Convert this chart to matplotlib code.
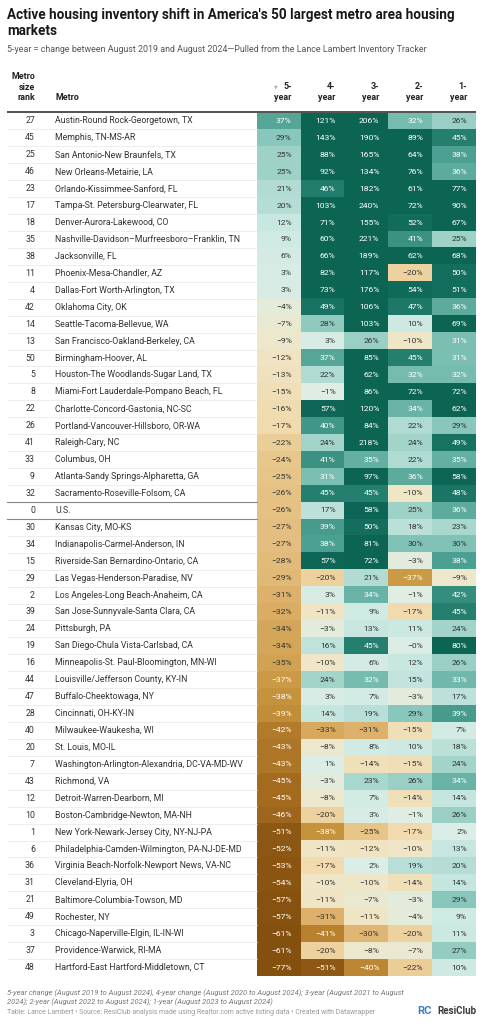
import matplotlib
matplotlib.use('Agg')
import matplotlib.pyplot as plt
import numpy as np
from matplotlib.colors import LinearSegmentedColormap, Normalize

plt.rcParams['font.family'] = ['Roboto', 'DejaVu Sans']

# 数据：排名、都市区、5/4/3/2/1年库存变化（%）
ranks = [27, 45, 25, 46, 23, 17, 18, 35, 38, 11, 4, 42, 14, 13, 50, 5, 8, 22, 26,
         41, 33, 9, 32, 0, 30, 34, 15, 29, 2, 39, 24, 19, 16, 44, 47, 28, 40, 20,
         7, 43, 12, 10, 1, 6, 36, 31, 21, 49, 3, 37, 48]
metros = [
    "Austin-Round Rock-Georgetown, TX", "Memphis, TN-MS-AR",
    "San Antonio-New Braunfels, TX", "New Orleans-Metairie, LA",
    "Orlando-Kissimmee-Sanford, FL", "Tampa-St. Petersburg-Clearwater, FL",
    "Denver-Aurora-Lakewood, CO", "Nashville-Davidson\u2013Murfreesboro\u2013Franklin, TN",
    "Jacksonville, FL", "Phoenix-Mesa-Chandler, AZ", "Dallas-Fort Worth-Arlington, TX",
    "Oklahoma City, OK", "Seattle-Tacoma-Bellevue, WA", "San Francisco-Oakland-Berkeley, CA",
    "Birmingham-Hoover, AL", "Houston-The Woodlands-Sugar Land, TX",
    "Miami-Fort Lauderdale-Pompano Beach, FL", "Charlotte-Concord-Gastonia, NC-SC",
    "Portland-Vancouver-Hillsboro, OR-WA", "Raleigh-Cary, NC", "Columbus, OH",
    "Atlanta-Sandy Springs-Alpharetta, GA", "Sacramento-Roseville-Folsom, CA", "U.S.",
    "Kansas City, MO-KS", "Indianapolis-Carmel-Anderson, IN",
    "Riverside-San Bernardino-Ontario, CA", "Las Vegas-Henderson-Paradise, NV",
    "Los Angeles-Long Beach-Anaheim, CA", "San Jose-Sunnyvale-Santa Clara, CA",
    "Pittsburgh, PA", "San Diego-Chula Vista-Carlsbad, CA",
    "Minneapolis-St. Paul-Bloomington, MN-WI", "Louisville/Jefferson County, KY-IN",
    "Buffalo-Cheektowaga, NY", "Cincinnati, OH-KY-IN", "Milwaukee-Waukesha, WI",
    "St. Louis, MO-IL", "Washington-Arlington-Alexandria, DC-VA-MD-WV", "Richmond, VA",
    "Detroit-Warren-Dearborn, MI", "Boston-Cambridge-Newton, MA-NH",
    "New York-Newark-Jersey City, NY-NJ-PA", "Philadelphia-Camden-Wilmington, PA-NJ-DE-MD",
    "Virginia Beach-Norfolk-Newport News, VA-NC", "Cleveland-Elyria, OH",
    "Baltimore-Columbia-Towson, MD", "Rochester, NY", "Chicago-Naperville-Elgin, IL-IN-WI",
    "Providence-Warwick, RI-MA", "Hartford-East Hartford-Middletown, CT"]
y5 = [37, 29, 25, 25, 21, 20, 12, 9, 6, 3, 3, -4, -7, -9, -12, -13, -15, -16, -17,
      -22, -24, -25, -26, -26, -27, -27, -28, -29, -31, -32, -34, -34, -35, -37, -38,
      -39, -42, -43, -43, -45, -45, -46, -51, -52, -53, -54, -57, -57, -61, -61, -77]
y4 = [121, 143, 88, 92, 46, 103, 71, 60, 66, 82, 73, 49, 28, 3, 37, 22, -1, 57, 40,
      24, 41, 31, 45, 17, 39, 38, 57, -20, 3, -11, -3, 16, -10, 24, 3, 14, -33, -8,
      1, -3, -8, -20, -38, -11, -17, -10, -11, -31, -41, -20, -51]
y3 = [206, 190, 165, 134, 182, 240, 155, 221, 189, 117, 176, 106, 103, 26, 85, 62, 86,
      120, 84, 218, 35, 97, 45, 58, 50, 81, 72, 21, 34, 9, 13, 45, 6, 32, 7, 19, -31,
      8, -14, 23, 7, 3, -25, -12, 2, -10, -7, -11, -30, -8, -40]
y2 = [32, 89, 64, 76, 61, 72, 52, 41, 62, -20, 54, 47, 10, -10, 45, 32, 72, 34, 22,
      24, 22, 36, -10, 25, 18, 30, -3, -37, -1, -17, 11, -0.0, 12, 15, -3, 29, -15, 10,
      -15, 26, -14, -1, -17, -10, 19, -14, -3, -4, -20, -7, -22]
y1 = [26, 45, 38, 36, 77, 90, 67, 25, 68, 50, 51, 36, 69, 31, 31, 32, 72, 62, 29,
      49, 35, 58, 48, 36, 23, 30, 38, -9, 42, 45, 24, 80, 26, 33, 17, 39, 7, 18,
      24, 34, 14, 26, 2, 13, 20, 14, 29, 9, 11, 27, 10]
col_labels = ["5-", "4-", "3-", "2-", "1-"]

vals = np.array([y5, y4, y3, y2, y1], dtype=float).T
n = len(ranks)

# 颜色：褐色(负) -> 米色 -> 青绿(正)
stops = [(-60, '#84500e'), (-50, '#8f5914'), (-44, '#a86f22'), (-38, '#c8963f'),
         (-31, '#deb36e'), (-24, '#e9c88e'), (-17, '#f1dbaf'), (-10, '#efe7c9'),
         (-4, '#e5ebd9'), (0, '#ddeee7'), (8, '#d2ebe5'), (15, '#c3e5de'),
         (22, '#b0dbd2'), (28, '#8fcabf'), (33, '#71b9ac'), (38, '#4fa293'),
         (44, '#2a8574'), (50, '#146f5e'), (60, '#0c6453')]
vmin, vmax = -60, 60
cmap = LinearSegmentedColormap.from_list(
    'inv', [((v - vmin) / (vmax - vmin), c) for v, c in stops])
norm = Normalize(vmin, vmax, clip=True)

W, H = 483, 1024
fig = plt.figure(figsize=(W / 100, H / 100), dpi=100)
bg = fig.add_axes([0, 0, 1, 1])
bg.set_xlim(0, W)
bg.set_ylim(H, 0)
bg.axis('off')

# 标题
bg.text(7, 8, "Active housing inventory shift in America's 50 largest metro area housing\nmarkets",
        fontsize=9.75, fontweight='bold', color='#181818', va='top', ha='left', linespacing=1.15)
bg.text(7, 49, "5-year = change between August 2019 and August 2024\u2014Pulled from the Lance Lambert Inventory Tracker",
        fontsize=6.4, color='#555555', va='center', ha='left')

# 表格区域
top, bottom = 112.5, 976
xl, xr = 257, 476
cw = (xr - xl) / 5
tab = fig.add_axes([0, 1 - bottom / H, 1, (bottom - top) / H])
tab.set_xlim(0, W)
tab.set_ylim(n, 0)
tab.axis('off')
tab.imshow(vals, cmap=cmap, norm=norm, aspect='auto', interpolation='nearest',
           extent=(xl, xr, n, 0))

# 表头
hdr = dict(fontsize=6.4, fontweight='bold', color='#222222', va='baseline')
bg.text(35, 100, "Metro\nsize\nrank", ha='right', multialignment='right', linespacing=1.2, **hdr)
bg.text(55, 100, "Metro", ha='left', **hdr)
for j, lab in enumerate(col_labels):
    xx = xl + cw * (j + 1) - 9
    bg.text(xx, 89, lab, ha='right', **hdr)
    bg.text(xx, 100, "year", ha='right', **hdr)
bg.text(276, 88.5, "\u25bc", fontsize=3.3, color='#aaaaaa', ha='center', va='baseline',
        family=['DejaVu Sans'])
bg.plot([7, xr], [112, 112], color='#333333', lw=1.2, solid_capstyle='butt')

# 行
us_row = ranks.index(0)
for i in range(n):
    tab.text(35, i + 0.5, str(ranks[i]), fontsize=6.3, color='#333333', ha='right', va='center')
    tab.text(55, i + 0.5, metros[i], fontsize=6.3, color='#333333', ha='left', va='center')
    if i > 0:
        tab.plot([7, xl], [i, i], color='#e8e8e8', lw=0.5)
    for j in range(5):
        v = vals[i, j]
        txt = ("%.0f%%" % v).replace('-', '\u2212')
        c = 'white' if (v >= 31 or v <= -37) else '#333333'
        tab.text(xl + cw * (j + 1) - 9, i + 0.5, txt, fontsize=6.1, color=c,
                 ha='right', va='center')
for yy in (us_row, us_row + 1):
    tab.plot([7, xl], [yy, yy], color='#888888', lw=0.8)

# 脚注
bg.text(7, 993, "5-year change (August 2019 to August 2024), 4-year change (August 2020 to August 2024); 3-year (August 2021 to August",
        fontsize=5.45, style='italic', color='#777777', va='center', ha='left')
bg.text(7, 1002.5, "2024); 2-year (August 2022 to August 2024); 1-year (August 2023 to August 2024)",
        fontsize=5.45, style='italic', color='#777777', va='center', ha='left')
bg.text(7, 1013, "Table: Lance Lambert \u2022 Source: ResiClub analysis made using Realtor.com active listing data \u2022 Created with Datawrapper",
        fontsize=4.95, color='#999999', va='center', ha='left')
bg.text(424, 1011, "RC", fontsize=8, fontweight='bold', color='#3b7fc4', va='center', ha='center')
bg.text(476, 1011, "ResiClub", fontsize=7, fontweight='bold', color='#3a3a3a', va='center', ha='right')

fig.savefig('out.png', dpi=100)
